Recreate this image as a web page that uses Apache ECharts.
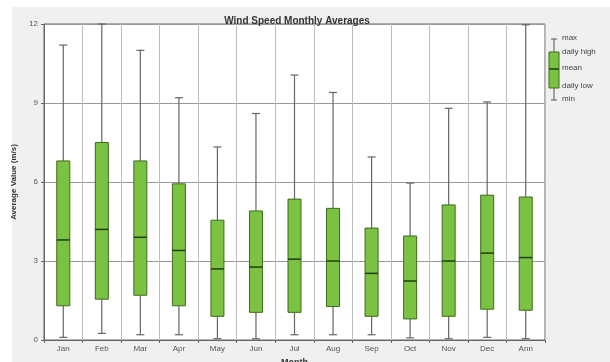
<!DOCTYPE html>
<html>
<head>
<meta charset="utf-8">
<script src="https://cdn.jsdelivr.net/npm/echarts@6/dist/echarts.min.js"></script>
<style>
  html, body { margin: 0; padding: 0; background: #fff; }
  #chart { width: 610px; height: 362px; }
</style>
</head>
<body>
<div id="chart"></div>
<script>
// monthly wind speed stats (m/s)
var months = ['Jan', 'Feb', 'Mar', 'Apr', 'May', 'Jun', 'Jul', 'Aug', 'Sep', 'Oct', 'Nov', 'Dec', 'Ann'];
var minVals    = [0.1, 0.25, 0.2, 0.2, 0.05, 0.05, 0.2, 0.2, 0.2, 0.08, 0.05, 0.1, 0.05];
var dailyLow   = [1.3, 1.55, 1.7, 1.3, 0.9, 1.05, 1.05, 1.27, 0.9, 0.8, 0.9, 1.17, 1.13];
var meanVals   = [3.8, 4.2, 3.9, 3.4, 2.7, 2.77, 3.07, 3.0, 2.53, 2.24, 3.0, 3.3, 3.13];
var dailyHigh  = [6.8, 7.5, 6.8, 5.93, 4.55, 4.9, 5.35, 5.0, 4.25, 3.95, 5.13, 5.5, 5.43];
var maxVals    = [11.2, 12.0, 11.0, 9.2, 7.33, 8.6, 10.06, 9.4, 6.95, 5.96, 8.8, 9.04, 11.97];
var yTicks = [0, 3, 6, 9, 12];
var legendLabels = ['max', 'daily high', 'mean', 'daily low', 'min'];

var boxData = months.map(function (m, i) {
  return [minVals[i], dailyLow[i], meanVals[i], dailyHigh[i], maxVals[i]];
});

var green = '#7cc242';
var darkGreen = '#3d6b1c';
var labelFont = 'Liberation Sans, Arial, sans-serif';

var chart = echarts.init(document.getElementById('chart'));

// grey panel (the original has a thin white margin left/top)
var graphics = [
  { type: 'rect', z: -100, silent: true, shape: { x: 12, y: 7, width: 598, height: 355 }, style: { fill: '#f0f0f0' } }
];

// little legend glyph on the right
var lx = 554, ly = 39;
graphics.push(
  { type: 'line', shape: { x1: lx, y1: ly, x2: lx, y2: ly + 61 }, style: { stroke: '#555', lineWidth: 1 } },
  { type: 'line', shape: { x1: lx - 3, y1: ly, x2: lx + 3, y2: ly }, style: { stroke: '#555', lineWidth: 1 } },
  { type: 'line', shape: { x1: lx - 3, y1: ly + 61, x2: lx + 3, y2: ly + 61 }, style: { stroke: '#555', lineWidth: 1 } },
  { type: 'rect', shape: { x: lx - 5, y: ly + 13, width: 10, height: 36 }, style: { fill: green, stroke: darkGreen, lineWidth: 1 } },
  { type: 'line', shape: { x1: lx - 5, y1: ly + 30, x2: lx + 5, y2: ly + 30 }, style: { stroke: '#1f3d0c', lineWidth: 1.5 } }
);
var labelYs = [ly, ly + 14, ly + 30, ly + 48, ly + 61];
legendLabels.forEach(function (t, i) {
  graphics.push({
    type: 'text', left: lx + 8, top: labelYs[i] - 5,
    style: { text: t, fill: '#444', font: '8px ' + labelFont }
  });
});

chart.setOption({
  backgroundColor: '#fff',
  animation: false,
  title: {
    text: 'Wind Speed Monthly Averages',
    left: 292, top: 11, textAlign: 'center',
    textStyle: { fontSize: 10, fontWeight: 'bold', color: '#333', fontFamily: labelFont }
  },
  grid: {
    left: 44, right: 65, top: 24, bottom: 22,
    outerBoundsMode: 'none',
    show: true, backgroundColor: '#fff', borderColor: '#666', borderWidth: 1
  },
  xAxis: {
    type: 'category',
    data: months,
    name: 'Month',
    nameLocation: 'middle',
    nameGap: 18,
    nameTextStyle: { fontSize: 9, fontWeight: 'bold', color: '#333', fontFamily: labelFont },
    axisLine: { lineStyle: { color: '#666' } },
    axisTick: { show: true, length: 3, lineStyle: { color: '#666' } },
    axisLabel: { fontSize: 8, color: '#555', margin: 5, fontFamily: labelFont },
    splitLine: { show: true, lineStyle: { color: '#bdbdbd', width: 1 } }
  },
  yAxis: {
    type: 'value',
    min: 0, max: 12, interval: 3,
    name: 'Average Value (m/s)',
    nameLocation: 'middle',
    nameGap: 15,
    nameTextStyle: { fontSize: 8, fontWeight: 'bold', color: '#333', fontFamily: labelFont },
    axisLine: { show: true, lineStyle: { color: '#666' } },
    axisTick: { show: true, length: 3, lineStyle: { color: '#666' } },
    axisLabel: {
      fontSize: 8, color: '#555', margin: 6, fontFamily: labelFont,
      formatter: function (v) { return yTicks.indexOf(v) >= 0 ? String(v) : ''; }
    },
    splitLine: { show: true, lineStyle: { color: '#999', width: 1 } }
  },
  series: [{
    // whiskers + boxes, positioned via the axes
    type: 'custom',
    data: boxData.map(function (d, i) { return [i, d[0], d[1], d[2], d[3], d[4]]; }),
    renderItem: function (params, api) {
      var x = api.value(0);
      var pMin = api.coord([x, api.value(1)]);
      var pLow = api.coord([x, api.value(2)]);
      var pMean = api.coord([x, api.value(3)]);
      var pHigh = api.coord([x, api.value(4)]);
      var pMax = api.coord([x, api.value(5)]);
      var hw = 6.5, cap = 4;
      var grey = { stroke: '#666', lineWidth: 1.2 };
      return {
        type: 'group',
        children: [
          { type: 'line', shape: { x1: pMax[0], y1: pMax[1], x2: pHigh[0], y2: pHigh[1] }, style: grey },
          { type: 'line', shape: { x1: pLow[0], y1: pLow[1], x2: pMin[0], y2: pMin[1] }, style: grey },
          { type: 'line', shape: { x1: pMax[0] - cap, y1: pMax[1], x2: pMax[0] + cap, y2: pMax[1] }, style: grey },
          { type: 'line', shape: { x1: pMin[0] - cap, y1: pMin[1], x2: pMin[0] + cap, y2: pMin[1] }, style: grey },
          { type: 'rect', shape: { x: pHigh[0] - hw, y: pHigh[1], width: hw * 2, height: pLow[1] - pHigh[1] },
            style: { fill: green, stroke: darkGreen, lineWidth: 1 } },
          { type: 'line', shape: { x1: pMean[0] - hw, y1: pMean[1], x2: pMean[0] + hw, y2: pMean[1] },
            style: { stroke: '#1f3d0c', lineWidth: 1.5 } }
        ]
      };
    },
    z: 3
  }],
  graphic: graphics
});
</script>
</body>
</html>
